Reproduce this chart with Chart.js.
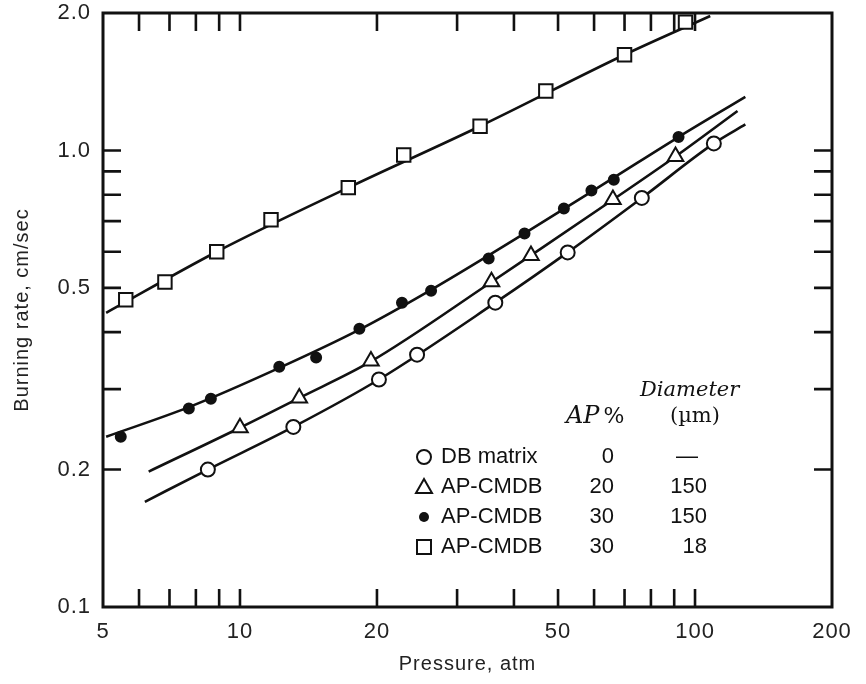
<!DOCTYPE html>
<html>
<head>
<meta charset="utf-8">
<script src="https://cdn.jsdelivr.net/npm/chart.js@4.4.1/dist/chart.umd.min.js"></script>
<style>
    html, body { margin: 0; padding: 0; background: #fff; }
</style>
</head>
<body>
<canvas id="burnChart" width="866" height="684"></canvas>
<script>
const dbP = [8.5, 13.1, 20.2, 24.5, 36.4, 52.5, 76.4, 110];
const dbR = [0.200, 0.248, 0.315, 0.357, 0.464, 0.598, 0.787, 1.036];

const ap20P = [10.0, 13.5, 19.4, 35.7, 43.6, 66, 90.6];
const ap20R = [0.247, 0.287, 0.346, 0.516, 0.589, 0.781, 0.970];

const ap30P = [5.47, 7.72, 8.63, 12.2, 14.7, 18.3, 22.7, 26.3, 35.2, 42.2, 51.5, 59.2, 66.3, 92];
const ap30R = [0.236, 0.272, 0.286, 0.336, 0.352, 0.407, 0.464, 0.493, 0.580, 0.658, 0.746, 0.817, 0.863, 1.07];

const fineP = [5.61, 6.84, 8.89, 11.7, 17.3, 22.9, 33.7, 47, 70, 95.3];
const fineR = [0.471, 0.515, 0.600, 0.705, 0.829, 0.977, 1.13, 1.35, 1.62, 1.91];

// the drawn curves
const dbCurveP = [6.18, 8.5, 13.1, 20.2, 36.4, 52.5, 76.4, 110, 129];
const dbCurveR = [0.170, 0.200, 0.248, 0.315, 0.464, 0.598, 0.787, 1.036, 1.14];

const ap20CurveP = [6.3, 10.0, 13.5, 19.4, 35.7, 43.6, 66, 90.6, 124];
const ap20CurveR = [0.198, 0.247, 0.287, 0.345, 0.515, 0.589, 0.780, 0.970, 1.22];

const ap30CurveP = [5.08, 7.72, 12.2, 18.3, 26.3, 42.2, 66.3, 92, 129];
const ap30CurveR = [0.236, 0.274, 0.334, 0.405, 0.495, 0.658, 0.872, 1.07, 1.31];

const fineCurveP = [5.08, 8.89, 17.3, 33.7, 70, 108];
const fineCurveR = [0.441, 0.600, 0.829, 1.13, 1.62, 1.97];

// axes
const xLabels = [5, 10, 20, 50, 100, 200];
const yLabels = [0.1, 0.2, 0.5, 1.0, 2.0];
const xTickMarks = [6, 7, 8, 9, 10, 20, 30, 40, 50, 60, 70, 80, 90, 100];
const yTickMarks = [0.2, 0.3, 0.4, 0.5, 0.6, 0.7, 0.8, 0.9, 1.0];

// legend table
const legendNames = ['DB matrix', 'AP-CMDB', 'AP-CMDB', 'AP-CMDB'];
const legendAP = ['0', '20', '30', '30'];
const legendDiameter = ['—', '150', '150', '18'];
const legendMarkers = ['open', 'triangle', 'dot', 'square'];

const INK = '#111';

function toXY(xs, ys) {
    return xs.map((x, i) => ({ x: x, y: ys[i] }));
}

function pointSet(label, xs, ys, style, radius, fill) {
    return {
        label: label,
        data: toXY(xs, ys),
        showLine: false,
        pointStyle: style,
        pointRadius: radius,
        pointHoverRadius: radius,
        pointBackgroundColor: fill,
        pointBorderColor: INK,
        pointBorderWidth: 2,
    };
}

function curveSet(label, xs, ys) {
    return {
        label: label,
        data: toXY(xs, ys),
        showLine: true,
        borderColor: INK,
        borderWidth: 2.6,
        pointRadius: 0,
        cubicInterpolationMode: 'monotone',
        fill: false,
    };
}

function drawMarker(ctx, kind, x, y) {
    ctx.lineWidth = 2;
    ctx.strokeStyle = INK;
    ctx.beginPath();
    if (kind === 'open') {
        ctx.arc(x, y, 7, 0, Math.PI * 2);
        ctx.fillStyle = '#fff';
        ctx.fill();
        ctx.stroke();
    } else if (kind === 'dot') {
        ctx.arc(x, y, 5, 0, Math.PI * 2);
        ctx.fillStyle = INK;
        ctx.fill();
    } else if (kind === 'triangle') {
        ctx.moveTo(x, y - 8);
        ctx.lineTo(x + 8, y + 6);
        ctx.lineTo(x - 8, y + 6);
        ctx.closePath();
        ctx.stroke();
    } else {
        ctx.rect(x - 7, y - 7, 14, 14);
        ctx.stroke();
    }
}

// frame and inward tick marks on all four sides
const framePlugin = {
    id: 'frame',
    beforeDraw(chart) {
        chart.ctx.letterSpacing = '1px';
    },
    beforeDatasetsDraw(chart) {
        const { ctx, chartArea: a, scales: { x, y } } = chart;
        const len = 18;
        ctx.save();
        ctx.strokeStyle = INK;
        ctx.lineWidth = 2.6;
        ctx.beginPath();
        xTickMarks.forEach(v => {
            const px = x.getPixelForValue(v);
            ctx.moveTo(px, a.bottom); ctx.lineTo(px, a.bottom - len);
            ctx.moveTo(px, a.top); ctx.lineTo(px, a.top + len);
        });
        yTickMarks.forEach(v => {
            const py = y.getPixelForValue(v);
            ctx.moveTo(a.left, py); ctx.lineTo(a.left + len, py);
            ctx.moveTo(a.right, py); ctx.lineTo(a.right - len, py);
        });
        ctx.stroke();
        ctx.lineWidth = 3;
        ctx.strokeRect(a.left, a.top, a.right - a.left, a.bottom - a.top);
        ctx.restore();
    },
};

// table-style legend inside the plot
const tablePlugin = {
    id: 'tableLegend',
    afterDraw(chart) {
        const ctx = chart.ctx;
        ctx.save();
        ctx.letterSpacing = '0px';
        ctx.fillStyle = INK;
        ctx.textBaseline = 'middle';

        ctx.textAlign = 'left';
        ctx.font = 'italic 21px "DejaVu Serif"';
        ctx.fillText('Diameter', 640, 391);
        ctx.font = 'italic 24px "DejaVu Serif"';
        ctx.fillText('AP', 566, 417);
        const apWidth = ctx.measureText('AP').width;
        ctx.font = '22px "DejaVu Serif"';
        ctx.fillText('%', 566 + apWidth + 4, 417);
        ctx.font = '21px "DejaVu Serif"';
        ctx.fillText('(µm)', 670, 417);

        ctx.font = '22px "Liberation Sans", Arial, sans-serif';
        legendNames.forEach((name, i) => {
            const rowY = 457 + i * 30;
            drawMarker(ctx, legendMarkers[i], 424, rowY);
            ctx.fillStyle = INK;
            ctx.textAlign = 'left';
            ctx.fillText(name, 441, rowY);
            ctx.textAlign = 'right';
            ctx.fillText(legendAP[i], 614, rowY);
            if (legendDiameter[i] === '—') {
                ctx.textAlign = 'center';
                ctx.fillText(legendDiameter[i], 687, rowY);
            } else {
                ctx.fillText(legendDiameter[i], 707, rowY);
            }
        });
        ctx.restore();
    },
};

const tickFont = { family: '"Liberation Sans", Arial, sans-serif', size: 22 };
const titleFont = { family: '"Liberation Sans", Arial, sans-serif', size: 20 };

new Chart(document.getElementById('burnChart'), {
    type: 'scatter',
    data: {
        datasets: [
            pointSet('DB matrix', dbP, dbR, 'circle', 7, '#fff'),
            pointSet('AP-CMDB 20% / 150 µm', ap20P, ap20R, 'triangle', 9, '#fff'),
            pointSet('AP-CMDB 30% / 150 µm', ap30P, ap30R, 'circle', 5, INK),
            pointSet('AP-CMDB 30% / 18 µm', fineP, fineR, 'rect', 9.5, '#fff'),
            curveSet('DB matrix curve', dbCurveP, dbCurveR),
            curveSet('AP 20 curve', ap20CurveP, ap20CurveR),
            curveSet('AP 30 curve', ap30CurveP, ap30CurveR),
            curveSet('AP 30 fine curve', fineCurveP, fineCurveR),
        ],
    },
    options: {
        responsive: false,
        animation: false,
        devicePixelRatio: 1,
        layout: { padding: { top: 13, right: 34, left: 0, bottom: 0 } },
        plugins: {
            legend: { display: false },
            tooltip: { enabled: false },
        },
        scales: {
            x: {
                type: 'logarithmic',
                min: 5,
                max: 200,
                grid: { display: false, drawTicks: false },
                border: { display: false },
                afterBuildTicks: s => { s.ticks = xLabels.map(v => ({ value: v })); },
                afterFit: s => { s.height = 77; },
                ticks: {
                    autoSkip: false,
                    maxRotation: 0,
                    padding: 12,
                    color: '#222',
                    font: tickFont,
                    callback: v => String(v),
                },
                title: {
                    display: true,
                    text: 'Pressure, atm',
                    color: '#222',
                    font: titleFont,
                    padding: { top: 0, bottom: 8 },
                },
            },
            y: {
                type: 'logarithmic',
                min: 0.1,
                max: 2.0,
                grid: { display: false, drawTicks: false },
                border: { display: false },
                afterBuildTicks: s => { s.ticks = yLabels.map(v => ({ value: v })); },
                afterFit: s => {
                    s.width = 103;
                    s.paddingTop = 0;
                    s.paddingBottom = 0;
                },
                ticks: {
                    autoSkip: false,
                    padding: 12,
                    color: '#222',
                    font: tickFont,
                    callback: v => Number(v).toFixed(1),
                },
                title: {
                    display: true,
                    text: 'Burning rate, cm/sec',
                    color: '#222',
                    font: titleFont,
                    padding: { top: 10, bottom: 0 },
                },
            },
        },
    },
    plugins: [framePlugin, tablePlugin],
});
</script>
</body>
</html>
